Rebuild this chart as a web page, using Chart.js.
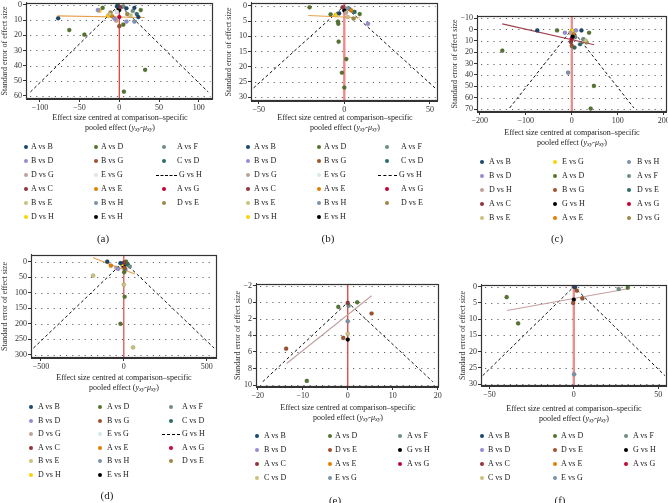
<!DOCTYPE html>
<html><head><meta charset="utf-8">
<script src="https://cdn.jsdelivr.net/npm/chart.js@4.4.0/dist/chart.umd.min.js"></script>
<style>
html,body{margin:0;padding:0;background:#fff;width:668px;height:503px;overflow:hidden;position:relative;font-family:"Liberation Serif","DejaVu Serif",serif;color:#222}
canvas{position:absolute}
.t{position:absolute;white-space:nowrap;font-size:8px;line-height:10px;color:#222}
.xt{position:absolute;white-space:nowrap;font-size:8px;line-height:10px;width:240px;text-align:center;color:#222}
.xt sub{font-size:6px;vertical-align:-1px}
.cap{position:absolute;font-size:11px;line-height:12px;width:40px;text-align:center;color:#222}
.dot{position:absolute;width:4px;height:4px;border-radius:50%}
.dash{position:absolute;height:0;border-top:1px dashed #000}
</style></head><body>
<script>
// ---------------- DATA ----------------
const seriesA = ['A vs B','B vs D','D vs G','A vs C','B vs E','D vs H','A vs D','B vs G','E vs G','A vs E','B vs H','E vs H','A vs F','C vs D','G vs H','A vs G','D vs E'];
const seriesC = ['A vs B','B vs D','D vs H','A vs C','B vs E','E vs G','A vs D','B vs G','G vs H','A vs E','B vs H','A vs F','D vs E','A vs G','D vs G'];
const seriesE = ['A vs B','B vs D','A vs C','C vs D','A vs D','D vs E','A vs E','E vs G','A vs F','G vs H','A vs G'];

// panel (a) points: [series, effect, SE]
const aPts = [
['A vs B',-77,8.8],['A vs B',9,2.2],['A vs B',19,1.9],['A vs B',24,8],['A vs B',-3,1],
['B vs D',-27,3.4],['B vs D',9,11],['B vs D',-6,9],
['D vs G',-4,10.3],['A vs C',1,1.5],
['B vs E',-12,6],['B vs E',14,7],
['D vs H',-25,3.8],['D vs H',-14,7],
['A vs D',-63,16.6],['A vs D',-44,19.6],['A vs D',-21,2],['A vs D',27,3.4],['A vs D',32.5,42.8],['A vs D',5.8,57.2],['A vs D',5,13],['A vs D',-2,0.5],
['B vs G',0,14],['E vs G',-3,4.5],['A vs E',-9,7.5],['B vs H',19,11],
['E vs H',0,3.4],['E vs H',-1,2.5],
['A vs F',5,1],['A vs F',17,4],['C vs D',22,6],['A vs G',0,8],
['D vs E',-11,5],['D vs E',10,6]
];
const aXTicks = [-100,-50,0,50,100];
const aYTicks = [0,10,20,30,40,50,60];
const aFunnelX = [-112,0,112], aFunnelY = [57.4,0,57.4];
const aFitX = [-78,32], aFitY = [7.2,8.3];

// panel (b)
const bPts = [
['A vs D',-20.3,0.5],['A vs D',-8,2.8],['A vs D',-3.7,5.2],['A vs D',-3.5,5.9],['A vs D',-3.3,11.8],['A vs D',1.2,17.5],['A vs D',-1.4,22],['A vs D',0,26.9],['A vs D',9,2.7],
['B vs D',13.8,5.9],['A vs B',-3,2.5],['E vs H',0,1.5],['B vs E',2,3.7],['D vs E',5.4,4.2],
['A vs F',3,1],['C vs D',6,2],['A vs C',-1,0.5],['B vs H',2,0.8],['D vs H',-5,3],['A vs E',4,1.5],['D vs G',1,2.2]
];
const bXTicks = [-50,0,50];
const bYTicks = [0,5,10,15,20,25,30];
const bFunnelX = [-53,0,53], bFunnelY = [27,0,27];
const bFitX = [-21,9], bFitY = [3.2,3.9];

// panel (c)
const cPts = [
['A vs B',-75,0.9],['A vs B',21,0.9],['A vs D',-151,18.7],['A vs D',-32,0.9],['B vs D',-15,2.9],['B vs D',9,0.9],
['A vs D',37.6,2.9],['G vs H',1.9,6.3],['A vs F',7.4,6.7],['A vs C',-1.9,11],['B vs G',0,14.4],['D vs E',5.8,15.9],
['D vs E',18,13],['A vs F',25,8.6],['D vs G',32,11.5],['B vs E',30,9.8],['B vs H',-8,38],
['A vs D',48,49.7],['A vs D',41,69.6],['E vs G',0,1],['D vs H',-3,3],['A vs E',3,4],['A vs G',0,8]
];
const cXTicks = [-200,-100,0,100,200];
const cYTicks = [-10,0,10,20,30,40,50,60,70];
const cFunnelX = [-135,0,135], cFunnelY = [69,0,69];
const cFitX = [-151,48.6], cFitY = [-4.9,13.5];

// panel (d)
const dPts = [
['A vs B',-100,0],['A vs B',-20,5],['A vs E',-78,13],['B vs E',-185,45],['B vs E',0,74],['B vs E',56,276],
['B vs D',-34,23],['D vs G',-45,20],['E vs H',0,13],['A vs D',14,0],['A vs D',2,34],['A vs D',5,113],['A vs D',-20,200],
['A vs F',36,16],['C vs D',25,10],['A vs C',0,3],['D vs H',-10,8],['B vs G',5,20],['D vs E',-5,15],['B vs H',10,25]
];
const dXTicks = [-500,0,500];
const dYTicks = [0,50,100,150,200,250,300];
const dFunnelX = [-545,0,545], dFunnelY = [278,0,278];
const dFitX = [-185,66], dFitY = [-12.7,40];

// panel (e)
const ePts = [
['A vs D',-2.1,0.56],['A vs D',2.1,0],['A vs C',0,0.07],['A vs F',0.2,0.4],['D vs E',5.3,1.35],['E vs G',0,2.3],
['C vs D',0,3.8],['D vs E',-1,4.3],['G vs H',0,4.5],['D vs E',-13.7,5.6],['A vs D',-9.1,9.5]
];
const eXTicks = [-20,-10,0,10,20];
const eYTicks = [-2,0,2,4,6,8,10];
const eFunnelX = [-18.9,0,18.9], eFunnelY = [9.6,0,9.6];
const eFitX = [-13.6,5.3], eFitY = [7.4,-0.8];

// panel (f)
const fPts = [
['A vs D',-39.8,3.2],['A vs D',-33,11.3],['A vs C',0,0],['A vs B',0.8,0.1],['D vs E',1.8,1.2],['G vs H',0,4],
['D vs E',-0.4,5],['D vs E',5.1,3.6],['A vs F',26.6,0.7],['A vs D',32,0.3],['E vs G',0.2,27]
];
const fXTicks = [-50,0,50];
const fYTicks = [0,5,10,15,20,25,30];
const fFunnelX = [-54,0,54], fFunnelY = [27.4,0,27.4];
const fFitX = [-39.6,32], fFitY = [7.3,0.6];

// ---------------- STYLES ----------------
const C = {navy:'#1a476f',maroon:'#90353b',forest:'#55752f',dkorange:'#e37e00',teal:'#6e8e84',cranberry:'#c10534',
 lavender:'#938dd2',khaki:'#cac27e',sienna:'#a0522d',emidblue:'#7b92a8',emerald:'#2d6d66',brown:'#9c8847',
 erose:'#bfa19c',gold:'#ffd200',bluishgray:'#d9e6eb',black:'#000000'};
const colA = {'A vs B':C.navy,'B vs D':C.lavender,'D vs G':C.erose,'A vs C':C.maroon,'B vs E':C.khaki,'D vs H':C.gold,
 'A vs D':C.forest,'B vs G':C.sienna,'E vs G':C.bluishgray,'A vs E':C.dkorange,'B vs H':C.emidblue,'E vs H':C.black,
 'A vs F':C.teal,'C vs D':C.emerald,'G vs H':'dash','A vs G':C.cranberry,'D vs E':C.brown};
const colC = {'A vs B':C.navy,'B vs D':C.lavender,'D vs H':C.erose,'A vs C':C.maroon,'B vs E':C.khaki,'E vs G':C.gold,
 'A vs D':C.forest,'B vs G':C.sienna,'G vs H':C.black,'A vs E':C.dkorange,'B vs H':C.emidblue,'A vs F':C.teal,
 'D vs E':C.emerald,'A vs G':C.cranberry,'D vs G':C.brown};
const colE = {'A vs B':C.navy,'B vs D':C.lavender,'A vs C':C.maroon,'C vs D':C.khaki,'A vs D':C.forest,'D vs E':C.sienna,
 'A vs E':C.dkorange,'E vs G':C.emidblue,'A vs F':C.teal,'G vs H':C.black,'A vs G':C.cranberry};

const FONT = '"Liberation Serif","DejaVu Serif",serif';
const fmt = v => v < 0 ? '\u2212' + Math.abs(v) : String(v);

const framePlugin = {
  id:'frame',
  beforeDatasetsDraw(chart){
    const {ctx, chartArea:a, scales:{y}} = chart;
    ctx.save(); ctx.strokeStyle='#666'; ctx.lineWidth=1; ctx.setLineDash([1.2,5]);
    y.ticks.forEach(t=>{const py=Math.round(y.getPixelForValue(t.value))+0.5;
      ctx.beginPath(); ctx.moveTo(a.left+4,py); ctx.lineTo(a.right-2,py); ctx.stroke();});
    ctx.restore();
  },
  afterDraw(chart){
    const {ctx, chartArea:a} = chart;
    ctx.save(); ctx.strokeStyle='#333'; ctx.lineWidth=1.2;
    ctx.strokeRect(Math.round(a.left)+0.5, Math.round(a.top)+0.5, Math.round(a.right-a.left)-1, Math.round(a.bottom-a.top)-1);
    ctx.restore();
  }
};

function addDiv(cls, x, y, html, style){
  const d = document.createElement('div'); d.className = cls; d.style.left = Math.round(x)+'px'; d.style.top = Math.round(y)+'px';
  if (html!==null) d.innerHTML = html; if (style) Object.assign(d.style, style); document.body.appendChild(d); return d;
}

function panel(p){
  const padT = 4, padR = 4, xH = 16;
  const cv = document.createElement('canvas');
  const w = p.R - p.L + p.yW + padR, h = p.B - p.T + padT + xH;
  cv.width = w; cv.height = h; cv.style.left = (p.L - p.yW)+'px'; cv.style.top = (p.T - padT)+'px';
  cv.style.width = w+'px'; cv.style.height = h+'px';
  document.body.appendChild(cv);
  const ds = [];
  p.names.forEach(n=>{
    const pts = p.pts.filter(q=>q[0]===n).map(q=>({x:q[1],y:q[2]}));
    if (!pts.length) return;
    ds.push({type:'scatter', label:n, data:pts, pointRadius:2.1, pointBackgroundColor:p.cols[n], pointBorderColor:'rgba(40,40,40,0.35)', pointBorderWidth:0.4});
  });
  ds.push({type:'line', label:'fit', data:p.fitX.map((v,i)=>({x:v,y:p.fitY[i]})), borderColor:p.fitCol, borderWidth:1.1, pointRadius:0, fill:false});
  ds.push({type:'line', label:'funnel', data:p.funX.map((v,i)=>({x:v,y:p.funY[i]})), borderColor:'#111', borderWidth:1, borderDash:[3,2.5], pointRadius:0, fill:false});
  ds.push({type:'line', label:'zero', data:[{x:0,y:p.ymin},{x:0,y:p.ymax}], borderColor:p.vCol, borderWidth:p.vW, pointRadius:0, fill:false});
  new Chart(cv, {
    data:{datasets:ds},
    options:{
      animation:false, responsive:false, devicePixelRatio:1,
      layout:{padding:{top:padT,right:padR,left:0,bottom:0}},
      plugins:{legend:{display:false}, tooltip:{enabled:false}},
      scales:{
        x:{type:'linear', min:p.xmin, max:p.xmax,
          afterBuildTicks:s=>{s.ticks = p.xt.map(v=>({value:v}));},
          afterFit:s=>{s.height = xH;},
          grid:{drawOnChartArea:false, drawTicks:true, tickLength:3, color:'#333', tickColor:'#333'},
          border:{display:true,color:'#333'},
          ticks:{font:{family:FONT,size:8}, color:'#333', padding:1, maxRotation:0, autoSkip:false, callback:fmt}},
        y:{type:'linear', reverse:true, min:p.ymin, max:p.ymax,
          afterBuildTicks:s=>{s.ticks = p.yt.map(v=>({value:v}));},
          afterFit:s=>{s.width = p.yW;},
          grid:{drawOnChartArea:false, drawTicks:true, tickLength:3, color:'#333', tickColor:'#333'},
          border:{display:true,color:'#333'},
          ticks:{font:{family:FONT,size:8}, color:'#333', padding:1, autoSkip:false, callback:fmt},
          title:{display:true, text:'Standard error of effect size', font:{family:FONT,size:8}, color:'#333', padding:{top:0,bottom:0}}}
      }
    },
    plugins:[framePlugin]
  });
  const cx = (p.L + p.R)/2;
  addDiv('xt', cx - 120, p.xtY - 5, 'Effect size centred at comparison\u2013specific');
  addDiv('xt', cx - 120, p.xtY + 5, 'pooled effect (<i>y</i><sub><i>xy</i></sub>-<i>\u03bc</i><sub><i>xy</i></sub>)');
  const rows = p.rows;
  p.names.forEach((n,i)=>{
    const col = Math.floor(i/rows), row = i % rows;
    const y = p.lgY + row*p.lgStep;
    if (p.cols[n]==='dash'){
      addDiv('dash', p.dashX[0], y, '', {width:(p.dashX[1]-p.dashX[0])+'px'});
      addDiv('t', p.dashX[1]+2, y-5, n);
    } else {
      addDiv('dot', p.mx[col]-2, y-2, '', {background:p.cols[n]});
      addDiv('t', p.tx[col], y-5, n);
    }
  });
  addDiv('cap', p.capX - 20, p.capY - 6, '('+p.cap+')');
}

panel({cap:'a', L:26,T:1,R:213,B:99, yW:26, xmin:-117.5,xmax:117.5, ymin:-1.4,ymax:62, xt:aXTicks, yt:aYTicks,
  pts:aPts, names:seriesA, cols:colA, funX:aFunnelX, funY:aFunnelY, fitX:aFitX, fitY:aFitY, fitCol:'#e8a04c', vCol:'#e0403c', vW:1.3,
  xtY:118, rows:6, lgY:147, lgStep:14, mx:[26,96,164], tx:[31,101,177], dashX:[156,177], capX:103, capY:238});
panel({cap:'b', L:251,T:1,R:438,B:101, yW:27, xmin:-54.5,xmax:54.5, ymin:-1,ymax:31.3, xt:bXTicks, yt:bYTicks,
  pts:bPts, names:seriesA, cols:colA, funX:bFunnelX, funY:bFunnelY, fitX:bFitX, fitY:bFitY, fitCol:'#e8a04c', vCol:'#f08a8a', vW:2.4,
  xtY:118, rows:6, lgY:147, lgStep:14, mx:[248,319,387], tx:[254,324,401], dashX:[378,397], capX:328, capY:238});
panel({cap:'c', L:477,T:14,R:667,B:112, yW:27, xmin:-206,xmax:206, ymin:-12,ymax:72.6, xt:cXTicks, yt:cYTicks,
  pts:cPts, names:seriesC, cols:colC, funX:cFunnelX, funY:cFunnelY, fitX:cFitX, fitY:cFitY, fitCol:'#a0404e', vCol:'#e89090', vW:2.4,
  xtY:133, rows:5, lgY:162, lgStep:14, mx:[482,555,629], tx:[489,562,637], dashX:[0,0], capX:557, capY:238});
panel({cap:'d', L:31,T:253,R:217,B:358, yW:31, xmin:-560,xmax:560, ymin:-22,ymax:310, xt:dXTicks, yt:dYTicks,
  pts:dPts, names:seriesA, cols:colA, funX:dFunnelX, funY:dFunnelY, fitX:dFitX, fitY:dFitY, fitCol:'#e8a04c', vCol:'#d84848', vW:1.2,
  xtY:378, rows:6, lgY:407, lgStep:13.6, mx:[31,100,171], tx:[38,107,182], dashX:[162,180], capX:107, capY:495});
panel({cap:'e', L:256,T:282,R:439,B:387, yW:23, xmin:-20.4,xmax:20.2, ymin:-2.24,ymax:10.24, xt:eXTicks, yt:eYTicks,
  pts:ePts, names:seriesE, cols:colE, funX:eFunnelX, funY:eFunnelY, fitX:eFitX, fitY:eFitY, fitCol:'#c4a0a0', vCol:'#e04040', vW:1.3,
  xtY:408, rows:4, lgY:436, lgStep:14, mx:[257,330,400], tx:[264,335,407], dashX:[0,0], capX:335, capY:500});
panel({cap:'f', L:481,T:283,R:667,B:386, yW:23, xmin:-55,xmax:55, ymin:-0.6,ymax:30.6, xt:fXTicks, yt:fYTicks,
  pts:fPts, names:seriesE, cols:colE, funX:fFunnelX, funY:fFunnelY, fitX:fFitX, fitY:fFitY, fitCol:'#c4a0a0', vCol:'#e89090', vW:2.4,
  xtY:409, rows:4, lgY:436, lgStep:14, mx:[482,555,626], tx:[488,561,633], dashX:[0,0], capX:560, capY:500});
</script>
</body></html>
